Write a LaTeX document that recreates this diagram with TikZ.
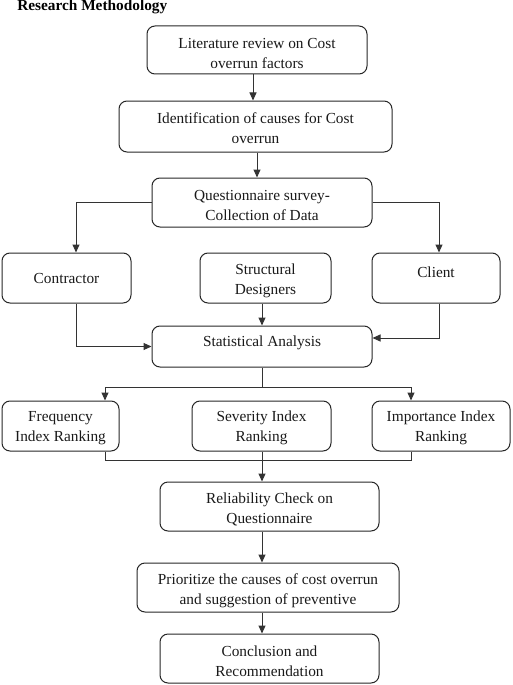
\documentclass[tikz,border=0pt]{standalone}
\usepackage{fontspec}
\setmainfont{Liberation Serif}
\usetikzlibrary{arrows.meta}
\begin{document}
\begin{tikzpicture}[x=0.75pt,y=-0.75pt,
 box/.style={draw=black!85, line width=0.75pt, rounded corners=6pt, inner sep=0pt},
 txt/.style={align=center, font=\fontsize{11.5}{15}\selectfont, inner sep=0pt, text=black!90},
 conn/.style={draw=black!80, line width=0.75pt},
 arr/.style={conn, -{Triangle[length=6pt,width=5.25pt]}}]
\useasboundingbox (0,0) rectangle (512,685);
\node[font=\fontsize{11.5}{15}\selectfont\bfseries, anchor=base west, inner sep=0pt] (title) at (17,11) {Research Methodology};
% boxes
\node[box, minimum width=165pt, minimum height=36pt] (b1) at (257,50) {};
\node[box, minimum width=204.75pt, minimum height=38.25pt] (b2) at (255.5,126.5) {};
\node[box, minimum width=165pt, minimum height=36.75pt] (b3) at (262,202.5) {};
\node[box, minimum width=96.75pt, minimum height=37.5pt] (con) at (66.5,278) {};
\node[box, minimum width=98.25pt, minimum height=37.5pt] (str) at (265.5,278) {};
\node[box, minimum width=96pt, minimum height=37.5pt] (cli) at (436,278) {};
\node[box, minimum width=165pt, minimum height=30.75pt] (stat) at (262,346.5) {};
\node[box, minimum width=87.75pt, minimum height=37.5pt] (freq) at (60.5,426) {};
\node[box, minimum width=104.25pt, minimum height=37.5pt] (sev) at (261.5,426) {};
\node[box, minimum width=103.5pt, minimum height=37.5pt] (imp) at (441,426) {};
\node[box, minimum width=164.25pt, minimum height=36.75pt] (rel) at (269.5,506.5) {};
\node[box, minimum width=196.5pt, minimum height=36.75pt] (prio) at (268,587.5) {};
\node[box, minimum width=164.25pt, minimum height=36.75pt] (concl) at (269.5,658.5) {};
% texts
\node[txt] (b1t) at (257,53) {Literature review on Cost\\overrun factors};
\node[txt] (b2t) at (255.5,128) {Identification of causes for Cost\\overrun};
\node[txt] (b3t) at (262,205.5) {Questionnaire survey-\\Collection of Data};
\node[txt] (cont) at (66.5,278) {Contractor};
\node[txt] (strt) at (265.5,281) {Structural\\Designers};
\node[txt] (clit) at (436,272) {Client};
\node[txt] (statt) at (262,343) {Statistical Analysis};
\node[txt] (freqt) at (60.5,428) {Frequency\\Index Ranking};
\node[txt] (sevt) at (261.5,428) {Severity Index\\Ranking};
\node[txt] (impt) at (441,428) {Importance Index\\Ranking};
\node[txt] (relt) at (269.5,509.5) {Reliability Check on\\Questionnaire};
\node[txt] (priot) at (268,590.5) {Prioritize the causes of cost overrun\\and suggestion of preventive};
\node[txt] (conclt) at (269.5,661.5) {Conclusion and\\Recommendation};
% helper coordinates
\coordinate (xa) at (253,0);
\coordinate (xb) at (257,0);
\coordinate (xm) at (262,0);
\coordinate (xl) at (76,0);
\coordinate (xr) at (439,0);
\coordinate (xf) at (105,0);
\coordinate (xi) at (411,0);
\coordinate (yc) at (0,338);
\coordinate (ys) at (0,387);
\coordinate (yb) at (0,460);
% connectors
\draw[arr] (xa |- b1.south) -- (xa |- b2.north);
\draw[arr] (xb |- b2.south) -- (xb |- b3.north);
\draw[arr] (b3.west) -| (xl |- con.north);
\draw[arr] (b3.east) -| (xr |- cli.north);
\draw[arr] (xm |- str.south) -- (xm |- stat.north);
\draw[arr] (xl |- con.south) |- (stat.west);
\draw[arr] (xr |- cli.south) |- (yc -| stat.east);
\draw[conn] (xm |- stat.south) -- (xm |- ys);
\draw[arr] (xm |- ys) -| (xf |- freq.north);
\draw[arr] (xm |- ys) -| (xi |- imp.north);
\draw[conn] (xf |- freq.south) |- (xm |- yb);
\draw[conn] (xi |- imp.south) |- (xm |- yb);
\draw[arr] (xm |- sev.south) -- (xm |- rel.north);
\draw[arr] (xm |- rel.south) -- (xm |- prio.north);
\draw[arr] (xm |- prio.south) -- (xm |- concl.north);
\end{tikzpicture}
\end{document}
